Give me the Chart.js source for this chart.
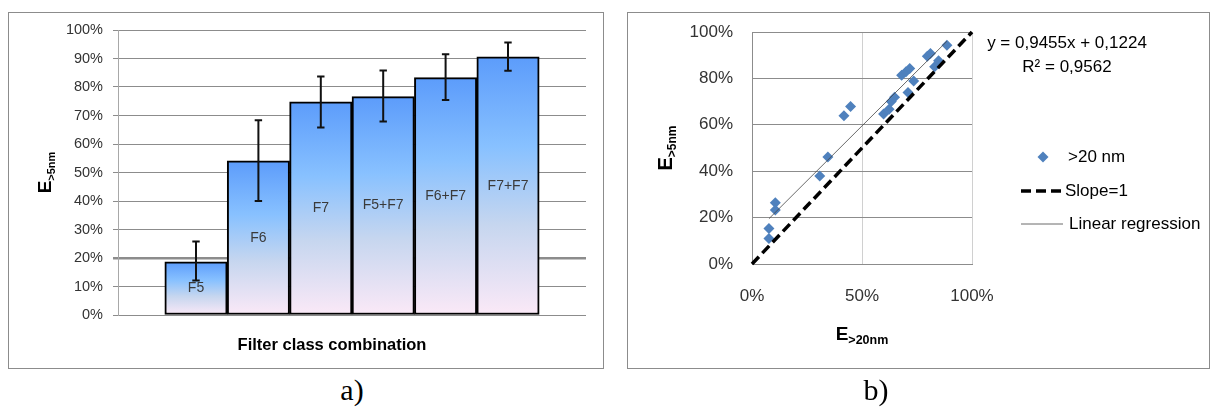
<!DOCTYPE html>
<html>
<head>
<meta charset="utf-8">
<script src="https://cdn.jsdelivr.net/npm/chart.js@4.4.0/dist/chart.umd.min.js"></script>
<style>
body{margin:0;width:1210px;height:407px;background:#fff;position:relative;overflow:hidden;font-family:"Liberation Sans",sans-serif}
.panel{position:absolute;border:1.5px solid #8c8c8c;box-sizing:border-box}
#pa{left:8px;top:12px;width:596px;height:357px}
#pb{left:627px;top:12px;width:583px;height:357px}
.cap{position:absolute;top:373px;font-family:"Liberation Serif",serif;font-size:30px;transform:translateX(-50%)}
#wrapA{position:absolute;left:0;top:0}
#wrapB{position:absolute;left:620px;top:0}
</style>
</head>
<body>
<div class="panel" id="pa"></div>
<div class="panel" id="pb"></div>
<div id="wrapA"><canvas id="bars" width="600" height="370"></canvas></div>
<div id="wrapB"><canvas id="scatter" width="590" height="380"></canvas></div>
<div class="cap" style="left:352px">a)</div>
<div class="cap" style="left:876px">b)</div>
<script>
// a) efficiency per filter combination
const filters = ['F5', 'F6', 'F7', 'F5+F7', 'F6+F7', 'F7+F7'];
const effMean = [0.187, 0.541, 0.748, 0.766, 0.833, 0.906];
const effLow = [0.121, 0.400, 0.658, 0.679, 0.754, 0.857];
const effHigh = [0.258, 0.683, 0.837, 0.858, 0.915, 0.956];

// b) E>5nm against E>20nm
const e20 = [0.077, 0.077, 0.106, 0.106, 0.308, 0.345, 0.418, 0.448, 0.598, 0.623, 0.633,
             0.648, 0.709, 0.680, 0.700, 0.717, 0.735, 0.797, 0.811, 0.830, 0.848, 0.886];
const e5 = [0.110, 0.153, 0.233, 0.264, 0.379, 0.461, 0.639, 0.679, 0.647, 0.667, 0.700,
            0.719, 0.739, 0.814, 0.829, 0.843, 0.789, 0.896, 0.907, 0.850, 0.876, 0.943];
const fitSlope = 0.9455;
const fitIntercept = 0.1224;
const fitR2 = '0,9562';

const pct = v => Math.round(v * 100) + '%';
const FONT = '"Liberation Sans", Arial, sans-serif';

// E with a subscript, centred on (cx, cy)
function drawSubText(ctx, main, sub, cx, cy, mainPx, subPx, angle) {
    ctx.save();
    ctx.translate(cx, cy);
    ctx.rotate(angle);
    ctx.font = 'bold ' + mainPx + 'px ' + FONT;
    const w1 = ctx.measureText(main).width;
    ctx.font = 'bold ' + subPx + 'px ' + FONT;
    const w2 = ctx.measureText(sub).width;
    const x0 = -(w1 + w2) / 2;
    ctx.fillStyle = '#000';
    ctx.textBaseline = 'alphabetic';
    ctx.font = 'bold ' + mainPx + 'px ' + FONT;
    ctx.fillText(main, x0, mainPx * 0.36);
    ctx.font = 'bold ' + subPx + 'px ' + FONT;
    ctx.fillText(sub, x0 + w1, mainPx * 0.36 + subPx * 0.3);
    ctx.restore();
}

// bar gradient, one per bar
function barFill(context) {
    const chart = context.chart;
    if (!chart.chartArea || !context.raw) return '#6aa6ff';
    const y = chart.scales.y;
    const top = y.getPixelForValue(context.raw.y);
    const bottom = y.getPixelForValue(0);
    const g = chart.ctx.createLinearGradient(0, top, 0, bottom);
    g.addColorStop(0, '#5c9cfb');
    g.addColorStop(0.35, '#88c1ff');
    g.addColorStop(0.65, '#c6d6ef');
    g.addColorStop(1, '#fbe9f7');
    return g;
}

const barExtras = {
    id: 'barExtras',
    afterDatasetsDraw(chart) {
        const ctx = chart.ctx;
        const y = chart.scales.y;
        const meta = chart.getDatasetMeta(0);
        // labels inside bars
        ctx.save();
        ctx.font = '14px ' + FONT;
        ctx.fillStyle = '#3a3a3a';
        ctx.textAlign = 'center';
        ctx.textBaseline = 'middle';
        meta.data.forEach((el, i) => {
            ctx.fillText(filters[i], el.x, (el.y + el.base) / 2);
        });
        // error bars
        ctx.strokeStyle = '#111';
        ctx.lineWidth = 2;
        meta.data.forEach((el, i) => {
            const lo = y.getPixelForValue(effLow[i]);
            const hi = y.getPixelForValue(effHigh[i]);
            ctx.beginPath();
            ctx.moveTo(el.x, lo); ctx.lineTo(el.x, hi);
            ctx.moveTo(el.x - 3.7, lo); ctx.lineTo(el.x + 3.7, lo);
            ctx.moveTo(el.x - 3.7, hi); ctx.lineTo(el.x + 3.7, hi);
            ctx.stroke();
        });
        ctx.restore();
    },
    afterDraw(chart) {
        const ctx = chart.ctx;
        const a = chart.chartArea;
        drawSubText(ctx, 'E', '>5nm', 44.5, (a.top + a.bottom) / 2, 19, 11, -Math.PI / 2);
        ctx.save();
        ctx.font = 'bold 16.5px ' + FONT;
        ctx.fillStyle = '#000';
        ctx.textAlign = 'center';
        ctx.textBaseline = 'middle';
        ctx.fillText('Filter class combination', 332, 345);
        ctx.restore();
    }
};

new Chart(document.getElementById('bars').getContext('2d'), {
    type: 'bar',
    data: {
        datasets: [{
            label: 'E>5nm',
            data: filters.map((f, i) => ({x: i, y: effMean[i]})),
            backgroundColor: barFill,
            borderColor: '#000',
            borderWidth: 2,
            borderSkipped: false,
            barPercentage: 1,
            categoryPercentage: 1
        }]
    },
    options: {
        responsive: false,
        animation: false,
        layout: {padding: {top: 30, right: 14, bottom: 55, left: 0}},
        plugins: {legend: {display: false}, tooltip: {enabled: false}},
        scales: {
            x: {
                type: 'linear', min: -1.25, max: 6.25, offset: false, display: false,
                // one tick per bar so the bar width is one whole step
                afterBuildTicks: s => { s.ticks = filters.map((f, i) => ({value: i})); }
            },
            y: {
                min: 0, max: 1,
                afterFit: s => { s.width = 118; },
                ticks: {stepSize: 0.1, callback: pct, padding: 10, color: '#333', font: {family: FONT, size: 14.5}},
                grid: {
                    color: '#8c8c8c',
                    lineWidth: c => (c.tick && Math.abs(c.tick.value - 0.2) < 1e-6 ? 2.5 : 1),
                    tickLength: 5
                },
                border: {color: '#a8a8a8'}
            }
        }
    },
    plugins: [barExtras]
});

const scatterExtras = {
    id: 'scatterExtras',
    afterDraw(chart) {
        const ctx = chart.ctx;
        const a = chart.chartArea;
        drawSubText(ctx, 'E', '>5nm', 45, (a.top + a.bottom) / 2, 20, 12, -Math.PI / 2);
        drawSubText(ctx, 'E', '>20nm', (a.left + a.right) / 2, 333.5, 19, 12.5, 0);

        ctx.save();
        ctx.fillStyle = '#000';
        ctx.font = '17px ' + FONT;
        ctx.textBaseline = 'middle';
        ctx.textAlign = 'center';
        ctx.fillText('y = ' + String(fitSlope).replace('.', ',') + 'x + ' + String(fitIntercept).replace('.', ','), 447, 43);
        ctx.fillText('R\u00b2 = ' + fitR2, 447, 67);

        // legend from the datasets
        const rows = [157, 191, 224];
        ctx.textAlign = 'left';
        chart.data.datasets.forEach((ds, i) => {
            const y = rows[i];
            if (ds.type === 'line') {
                ctx.save();
                ctx.strokeStyle = ds.borderColor;
                ctx.lineWidth = ds.borderWidth;
                ctx.setLineDash(ds.borderDash || []);
                ctx.beginPath();
                ctx.moveTo(401, y); ctx.lineTo(443, y);
                ctx.stroke();
                ctx.restore();
            } else {
                const r = ds.pointRadius;
                ctx.fillStyle = ds.backgroundColor;
                ctx.beginPath();
                ctx.moveTo(423, y - r); ctx.lineTo(423 + r, y);
                ctx.lineTo(423, y + r); ctx.lineTo(423 - r, y);
                ctx.closePath();
                ctx.fill();
            }
            ctx.fillStyle = '#000';
            ctx.fillText(ds.label, [448, 445, 449][i], y);
        });
        ctx.restore();
    }
};

const xMin = Math.min(...e20), xMax = Math.max(...e20);

new Chart(document.getElementById('scatter').getContext('2d'), {
    type: 'scatter',
    data: {
        datasets: [{
            label: '>20 nm',
            data: e20.map((x, i) => ({x: x, y: e5[i]})),
            pointStyle: 'rectRot',
            pointRadius: 5.5,
            backgroundColor: '#4f81bd',
            borderColor: '#4f81bd',
            borderWidth: 0,
            order: 3
        }, {
            type: 'line',
            label: 'Slope=1',
            data: [{x: 0, y: 0}, {x: 1, y: 1}],
            borderColor: '#000',
            borderWidth: 3.5,
            borderDash: [10, 5],
            pointRadius: 0,
            clip: false,
            order: 2
        }, {
            type: 'line',
            label: 'Linear regression',
            data: [{x: xMin, y: fitSlope * xMin + fitIntercept}, {x: xMax, y: fitSlope * xMax + fitIntercept}],
            borderColor: '#444',
            borderWidth: 0.8,
            pointRadius: 0,
            order: 1
        }]
    },
    options: {
        responsive: false,
        animation: false,
        layout: {padding: {top: 32, right: 238, bottom: 0, left: 0}},
        plugins: {legend: {display: false}, tooltip: {enabled: false}},
        scales: {
            x: {
                type: 'linear', min: 0, max: 1,
                afterFit: s => { s.height = 116; },
                ticks: {stepSize: 0.5, callback: pct, padding: 22, color: '#333', font: {family: FONT, size: 17}},
                grid: {color: '#d0d0d0', drawTicks: false},
                border: {color: '#8c8c8c'}
            },
            y: {
                min: 0, max: 1,
                afterFit: s => { s.width = 132; },
                ticks: {stepSize: 0.2, callback: pct, padding: 19, color: '#333', font: {family: FONT, size: 17}},
                grid: {color: '#8c8c8c', drawTicks: false},
                border: {color: '#8c8c8c'}
            }
        }
    },
    plugins: [scatterExtras]
});
</script>
</body>
</html>
